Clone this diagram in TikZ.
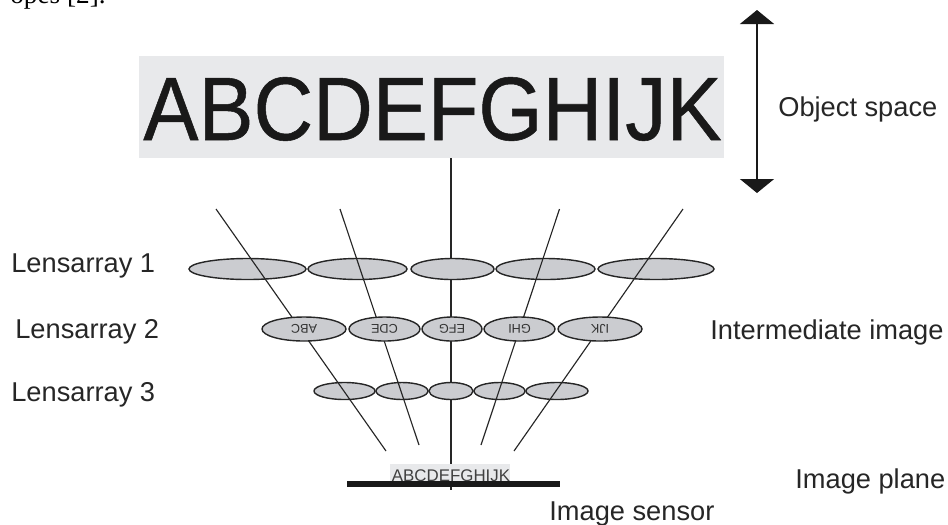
\documentclass[tikz,border=0pt]{standalone}
\usepackage{fontspec}
\setmainfont{Liberation Sans}
\newfontfamily\serifcut{Liberation Serif}
\newfontfamily\heavysans[FakeBold=0.6]{Liberation Sans}
\usetikzlibrary{shapes.geometric}
\usetikzlibrary{arrows.meta}
\definecolor{boxgrey}{HTML}{E8E9EB}
\definecolor{lensgrey}{HTML}{CBCCD0}
\tikzset{
    label/.style={font=\fontsize{15.5}{18}\selectfont,text=black!85,inner sep=0pt},
    lens/.style={draw=black!85,fill=lensgrey,ellipse,line width=0.8pt,inner sep=0pt},
    ray/.style={black!85,line width=0.65pt},
    lenstext/.style={font=\fontsize{7.2}{9}\selectfont,text=black!80,rotate=180}
}
\begin{document}
\begin{tikzpicture}[x=0.2mm,y=-0.2mm]
    \useasboundingbox (0,0) rectangle (948,524);
    \path (10,3) node [anchor=base west,inner sep=0pt,font=\serifcut\fontsize{15.5}{18}\selectfont] (cite) {opes [2].};
    % object and its axis
    \path (431.5,107) node [fill=boxgrey,minimum width=11.7cm,minimum height=2.04cm,inner sep=0pt] (obj) {};
    \path (432.5,140) node [anchor=base,inner sep=0pt,text=black!90,font=\heavysans\fontsize{47}{50}\selectfont] (objtext) {\scalebox{1}[1.09]{ABCDEFGHIJK}};
    \path (451,490) coordinate (axisend);
    \draw [ray] (obj.south -| axisend) -- (axisend);
    % lens rows 1 and 3 lie on the axis, rays run over them
    \path (247.5,269) node [lens,minimum width=2.34cm,minimum height=0.42cm] (a1) {};
    \path (357.5,269) node [lens,minimum width=1.98cm,minimum height=0.42cm] (a2) {};
    \path (452.5,269) node [lens,minimum width=1.66cm,minimum height=0.42cm] (a3) {};
    \path (545.5,269) node [lens,minimum width=1.98cm,minimum height=0.42cm] (a4) {};
    \path (656,269) node [lens,minimum width=2.32cm,minimum height=0.42cm] (a5) {};
    \path (344.5,391) node [lens,minimum width=1.22cm,minimum height=0.34cm] (c1) {};
    \path (402,391) node [lens,minimum width=1.04cm,minimum height=0.34cm] (c2) {};
    \path (451,391) node [lens,minimum width=0.88cm,minimum height=0.34cm] (c3) {};
    \path (499.5,391) node [lens,minimum width=1.02cm,minimum height=0.34cm] (c4) {};
    \path (557,391) node [lens,minimum width=1.24cm,minimum height=0.34cm] (c5) {};
    \path (216,209) coordinate (r1a) (386,451) coordinate (r1b);
    \path (340,209) coordinate (r2a) (419,445) coordinate (r2b);
    \path (559.5,209) coordinate (r4a) (481,445) coordinate (r4b);
    \path (683,209) coordinate (r5a) (514,451) coordinate (r5b);
    \draw [ray] (r1a) -- (r1b);
    \draw [ray] (r2a) -- (r2b);
    \draw [ray] (r4a) -- (r4b);
    \draw [ray] (r5a) -- (r5b);
    % row 2 covers the rays
    \path (304,329) node [lens,minimum width=1.68cm,minimum height=0.48cm] (b1) {};
    \path (384.5,329) node [lens,minimum width=1.42cm,minimum height=0.48cm] (b2) {};
    \path (452,329) node [lens,minimum width=1.2cm,minimum height=0.48cm] (b3) {};
    \path (519.5,329) node [lens,minimum width=1.42cm,minimum height=0.48cm] (b4) {};
    \path (600,329) node [lens,minimum width=1.68cm,minimum height=0.48cm] (b5) {};
    \path (b1.center) node [lenstext] (t1) {ABC};
    \path (b2.center) node [lenstext] (t2) {CDE};
    \path (b3.center) node [lenstext] (t3) {EFG};
    \path (b4.center) node [lenstext] (t4) {GHI};
    \path (b5.center) node [lenstext] (t5) {IJK};
    % sensor
    \path (450,472.5) node [fill=boxgrey,minimum width=2.4cm,minimum height=0.34cm,inner sep=0pt] (imgbox) {};
    \path (453.5,484) node [fill=black!90,minimum width=4.26cm,minimum height=0.12cm,inner sep=0pt] (bar) {};
    \path (451,481) node [anchor=base,inner sep=0pt,text=black!75,font=\fontsize{9.6}{11}\selectfont] (img) {ABCDEFGHIJK};
    % object space arrow
    \path (757,10) coordinate (up) (757,193) coordinate (down);
    \draw [{Triangle[width=0.68cm,length=0.28cm]}-{Triangle[width=0.68cm,length=0.28cm]},line width=0.8pt,black!90] (up) -- (down);
    \path (778,109) node [label,anchor=west] (objl) {Object space};
    \path (11,266) node [label,anchor=west] (l1) {Lensarray 1};
    \path (15,332) node [label,anchor=west] (l2) {Lensarray 2};
    \path (11,395) node [label,anchor=west] (l3) {Lensarray 3};
    \path (710,332) node [label,anchor=west] (inter) {Intermediate image};
    \path (795,481) node [label,anchor=west] (plane) {Image plane};
    \path (549,514) node [label,anchor=west] (sensor) {Image sensor};
\end{tikzpicture}
\end{document}
